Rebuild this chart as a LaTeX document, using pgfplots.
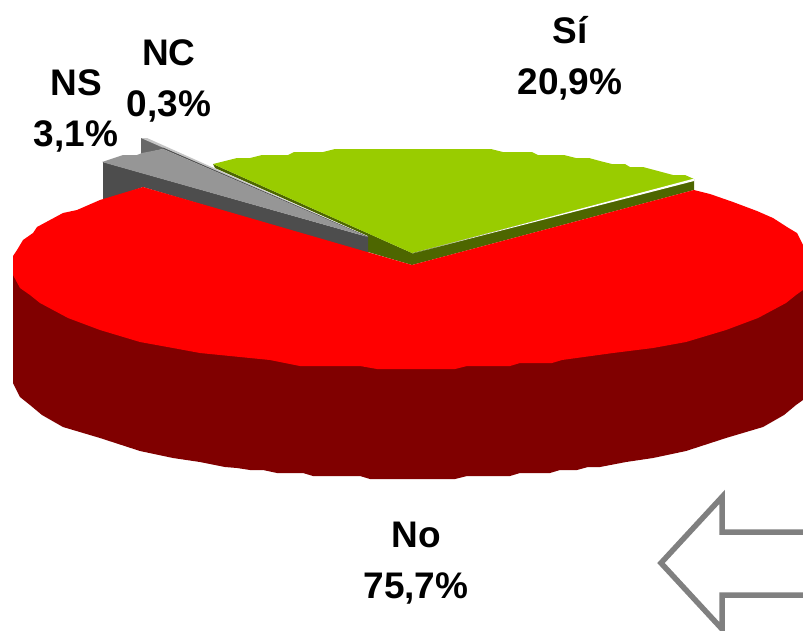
\documentclass[border=0pt]{standalone}
\usepackage{pgfplots}
\pgfplotsset{compat=1.18}
\usepackage{fontspec}
\setmainfont{Liberation Sans}
\definecolor{redtop}{HTML}{FF0000}
\definecolor{redside}{HTML}{800000}
\definecolor{greentop}{HTML}{99CC00}
\definecolor{greenside}{HTML}{4D6600}
\definecolor{greytop}{HTML}{969696}
\definecolor{greyside}{HTML}{4D4D4D}
\definecolor{arrowgrey}{HTML}{808080}
\tikzset{lab/.style={font=\fontsize{37}{51}\selectfont\bfseries, align=center, inner sep=0pt, text=black}}
\begin{document}
\begin{tikzpicture}
\useasboundingbox (0,0) rectangle (803pt,630pt);
\begin{axis}[
  at={(0,0)}, anchor=south west,
  scale only axis, width=803pt, height=630pt,
  xmin=0, xmax=803, ymin=0, ymax=630, y dir=reverse,
  hide axis,
]
% NC slice side and top
\addplot[fill=greyside!85!white, draw=none] coordinates {(141,138)(146,139)(368,237)(163,149)(141,154)} --cycle;
\addplot[fill=greytop!55!white, draw=none] coordinates {(141,138)(147,138)(368,237)(366,237)} --cycle;
\addplot[draw=greyside, line width=0.7pt] coordinates {(163,148)(368,237)};
% green slice, sides
\addplot[fill=greenside, draw=none] coordinates {(213,164)(412,253)(412,265)(368,252)(368,236)(215,168)} --cycle;
\addplot[fill=greenside, draw=none] coordinates {(412,253)(694,179)(694,190)(412,265)} --cycle;
% green top
\addplot[fill=greentop, draw=none] coordinates {(213,164)(237,158)(250,158)(262,155)(288,155)(294,152)(323,152)(335,149)(491,149)(503,152)(532,152)(538,155)(564,155)(576,158)(589,158)(600,161)(612,164)(625,164)(630,167)(643,167)(658,171)(673,175)(685,175)(694,179)(412,253)} --cycle;
\addplot[fill=white, draw=none] coordinates {(412,253.5)(694,178.6)(694,181)} --cycle;
% NS slice side and top
\addplot[fill=greyside, draw=none] coordinates {(103,162)(368,237)(368,254)(143,187)(103,201)} --cycle;
\addplot[fill=greytop, draw=none] coordinates {(102,162)(123,155)(137,155)(142,153)(163,149)(368,237)} --cycle;
% red side
\addplot[fill=redside, draw=none] coordinates {(13,275)(13,383)(20,397)(30,405)(42,415)(63,427)(100,438)(140,451)(173,458)(200,462)(225,467)(237,468)(250,470)(263,470)(277,473)(303,473)(313,476)(360,476)(370,479)(455,479)(467,476)(510,476)(520,473)(550,473)(560,470)(577,470)(588,467)(600,467)(626,462)(653,458)(686,451)(726,438)(763,427)(784,415)(796,405)(803,400)(803,290)} --cycle;
% red top
\addplot[fill=redtop, draw=none] coordinates {(412,265)(694,190)(710,194)(733,202)(757,211)(773,218)(787,227)(797,233)(803,245)(803,290)(796,295)(786,303)(758,318)(726,330)(686,342)(653,348)(613,353)(562,360)(552,363)(520,363)(510,366)(467,366)(455,369)(377,369)(360,366)(300,366)(270,360)(200,353)(173,348)(140,342)(100,330)(68,318)(40,303)(30,295)(20,288)(13,275)(13,256)(17,250)(23,240)(33,233)(37,227)(63,213)(77,210)(100,200)(143,187)} --cycle;
% arrow
\addplot[draw=arrowgrey, line width=5.5pt, miter limit=10] coordinates {(815,532)(722,532)(722,497)(661,563)(722,629)(722,595)(815,595)};
% labels
\node[lab] at (axis cs:570,58) {Sí\\20,9\%};
\node[lab] at (axis cs:169,81) {NC\\0,3\%};
\node[lab] at (axis cs:76,111) {NS\\3,1\%};
\node[lab] at (axis cs:416,563) {No\\75,7\%};
\end{axis}
\end{tikzpicture}
\end{document}
